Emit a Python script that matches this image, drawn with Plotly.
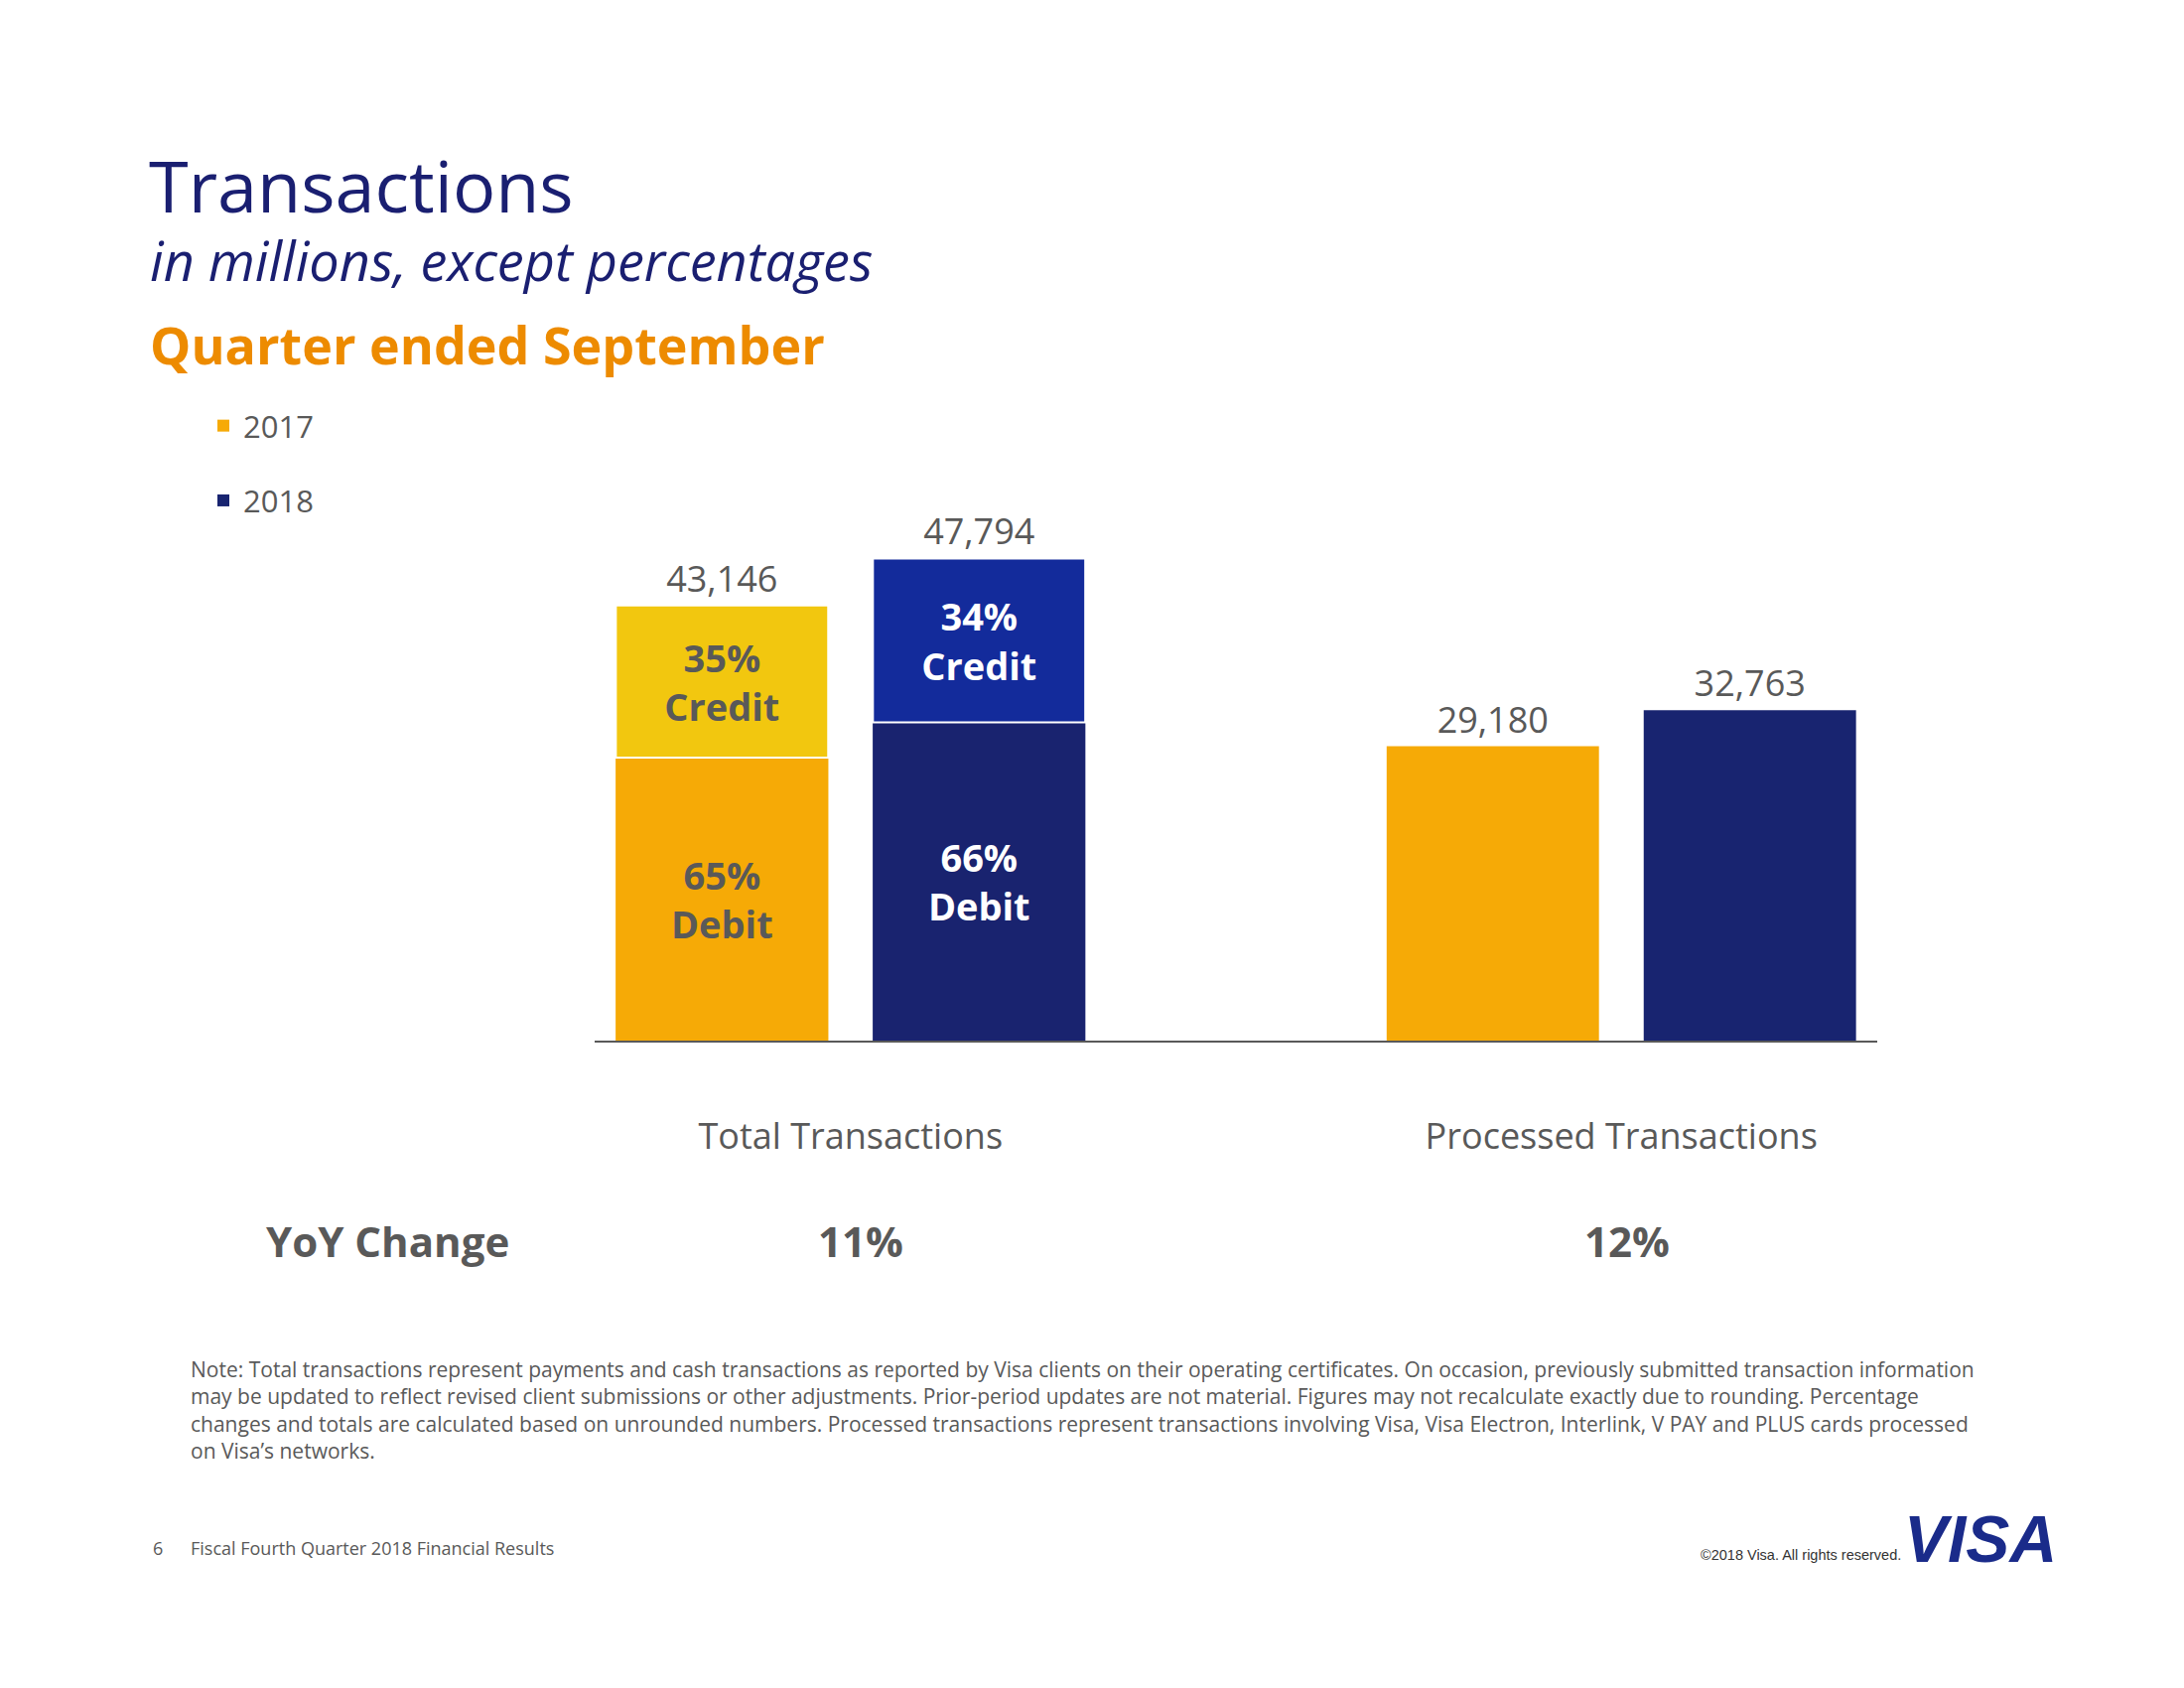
import plotly.graph_objects as go

# ---- data ----
categories = ["Total Transactions", "Processed Transactions"]
years = ["2017", "2018"]
totals_2017 = [43146, 29180]
totals_2018 = [47794, 32763]
credit_pct = {"2017": 35, "2018": 34}
debit_pct = {"2017": 65, "2018": 66}
yoy_labels = ["11%", "12%"]
note_lines = [
    "Note: Total transactions represent payments and cash transactions as reported by Visa clients on their operating certificates. On occasion, previously submitted transaction information",
    "may be updated to reflect revised client submissions or other adjustments. Prior-period updates are not material. Figures may not recalculate exactly due to rounding. Percentage",
    "changes and totals are calculated based on unrounded numbers. Processed transactions represent transactions involving Visa, Visa Electron, Interlink, V PAY and PLUS cards processed",
    "on Visa\u2019s networks.",
]

# page offset (browser body margin) compensation
OFF = 8
W, H = 2192, 1692
FONT = "Open Sans"
GRAY = "#595959"
NAVY = "#1A1F71"
ORANGE = "#ED8B00"

colors = {
    "2017": {"full": "#F6AA06", "debit": "#F6AA06", "credit": "#F2C70F", "text": GRAY},
    "2018": {"full": "#182470", "debit": "#19236F", "credit": "#132B9B", "text": "white"},
}
totals = {"2017": totals_2017, "2018": totals_2018}

fig = go.Figure()
for yr in years:
    tot = totals[yr]
    debit_val = tot[0] * debit_pct[yr] / 100.0
    credit_val = tot[0] * credit_pct[yr] / 100.0
    # full bars (carry total labels + legend)
    fig.add_trace(go.Bar(
        x=categories, y=tot, name=yr, legendgroup=yr, offsetgroup=yr,
        marker=dict(color=colors[yr]["full"], line=dict(width=0)),
        text=[f"{v:,}" for v in tot], textposition="outside",
        outsidetextfont=dict(family=FONT, size=36, color=GRAY),
        cliponaxis=False, showlegend=True,
    ))
    # debit segment
    fig.add_trace(go.Bar(
        x=[categories[0]], y=[debit_val], name=f"{yr} Debit", legendgroup=yr, offsetgroup=yr,
        marker=dict(color=colors[yr]["debit"], line=dict(width=0)),
        text=[f"{debit_pct[yr]}%<br>Debit"], textposition="inside", insidetextanchor="middle",
        textangle=0, constraintext="none",
        insidetextfont=dict(family=FONT, size=38, color=colors[yr]["text"], weight="bold"),
        showlegend=False,
    ))
    # credit segment
    fig.add_trace(go.Bar(
        x=[categories[0]], y=[credit_val], base=[debit_val], name=f"{yr} Credit",
        legendgroup=yr, offsetgroup=yr,
        marker=dict(color=colors[yr]["credit"], line=dict(width=2, color="white")),
        text=[f"{credit_pct[yr]}%<br>Credit"], textposition="inside", insidetextanchor="middle",
        textangle=0, constraintext="none",
        insidetextfont=dict(family=FONT, size=38, color=colors[yr]["text"], weight="bold"),
        showlegend=False,
    ))

def px_x(p):
    return (p - OFF) / W

def px_y(p):
    return 1 - (p - OFF) / H

annotations = []
def ann(text, x, y, size, color, xanchor="left", yanchor="middle", bold=False, italic=False,
        family=FONT, align="left"):
    annotations.append(dict(
        text=text, x=px_x(x), y=px_y(y), xref="paper", yref="paper",
        xanchor=xanchor, yanchor=yanchor, showarrow=False, align=align,
        font=dict(family=family, size=size, color=color,
                  weight="bold" if bold else "normal",
                  style="italic" if italic else "normal"),
    ))

ann("Transactions", 148, 186, 72, NAVY)
ann("in millions, except percentages", 149, 262, 54, NAVY, italic=True)
ann("Quarter ended September", 149, 346, 52, ORANGE, bold=True)
ann("YoY Change", 390, 1249, 42, GRAY, xanchor="center", bold=True)
ann(yoy_labels[0], 867, 1249, 42, GRAY, xanchor="center", bold=True)
ann(yoy_labels[1], 1639, 1249, 42, GRAY, xanchor="center", bold=True)
ann("<br>".join(note_lines), 190, 1363, 21, GRAY, yanchor="top")
ann("6", 159, 1559, 18, GRAY, xanchor="center")
ann("Fiscal Fourth Quarter 2018 Financial Results", 190, 1559, 18, GRAY)
ann("\u00a92018 Visa. All rights reserved.", 1917, 1566, 14.5, "#333333", xanchor="right",
    family="Liberation Sans")
ann("VISA", 1995, 1550, 66, "#1A2B8A", xanchor="center", bold=True, italic=True,
    family="Liberation Sans")

fig.update_layout(
    width=W, height=H, autosize=False,
    margin=dict(l=0, r=0, t=0, b=0),
    paper_bgcolor="white", plot_bgcolor="white",
    barmode="group", bargap=0.333, bargroupgap=0.174,
    font=dict(family=FONT, color=GRAY),
    showlegend=True,
    legend=dict(
        x=px_x(205), y=px_y(402), xanchor="left", yanchor="top",
        font=dict(family=FONT, size=31, color=GRAY),
        traceorder="grouped", tracegroupgap=32, bgcolor="rgba(0,0,0,0)",
    ),
    xaxis=dict(
        domain=[px_x(599), px_x(1891)], range=[-0.332, 1.332], type="category",
        showline=True, linecolor=GRAY, linewidth=2, showgrid=False, zeroline=False,
        ticks="", tickfont=dict(family=FONT, size=36, color=GRAY),
        ticklabelstandoff=64, fixedrange=True,
    ),
    yaxis=dict(
        domain=[px_y(1048), px_y(540)], range=[0, 50000], visible=False,
        showgrid=False, zeroline=False, fixedrange=True,
    ),
    annotations=annotations,
    hovermode=False,
)

fig.write_html("out.html")
